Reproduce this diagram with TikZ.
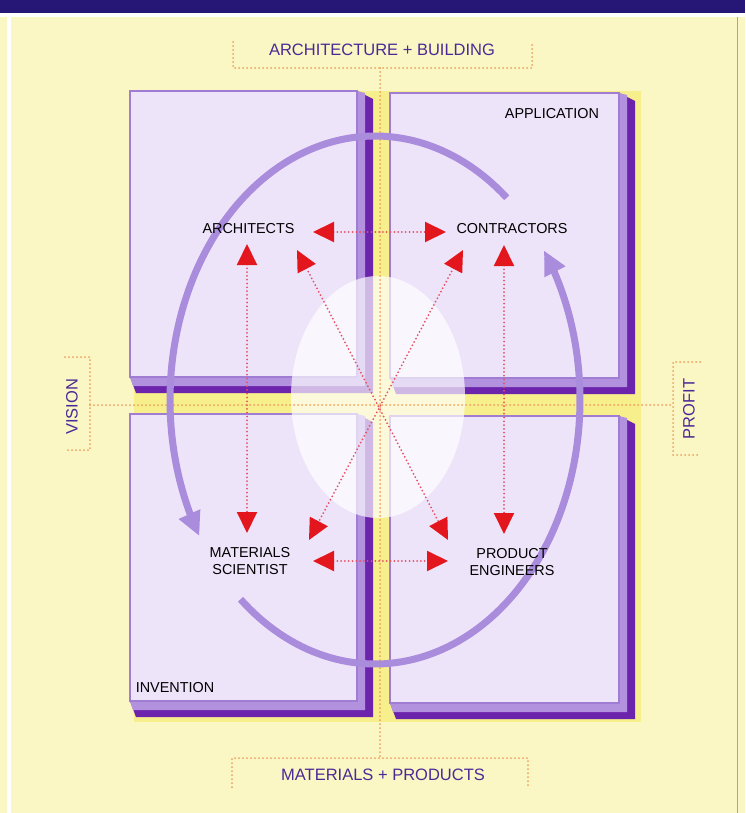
\documentclass[tikz,border=0pt]{standalone}
\usepackage{fontspec}
\setmainfont{Liberation Sans}
\usetikzlibrary{arrows.meta}
\definecolor{bgpale}{RGB}{250,247,196}
\definecolor{bgbright}{RGB}{247,238,140}
\definecolor{band}{RGB}{38,22,118}
\definecolor{face}{RGB}{238,228,250}
\definecolor{faceedge}{RGB}{160,125,210}
\definecolor{extlight}{RGB}{178,146,222}
\definecolor{extdark}{RGB}{108,36,172}
\definecolor{arcpurple}{RGB}{170,140,220}
\definecolor{redtip}{RGB}{226,22,28}
\definecolor{reddot}{RGB}{232,80,100}
\definecolor{orangedot}{RGB}{236,160,95}
\definecolor{labelblue}{RGB}{76,42,150}
\newcommand\quadbox[4]{%
  \fill[extdark] (#3,#2) -- ({#3+16},{#2+8}) -- ({#3+16},{#4+16}) -- ({#1+6},{#4+16}) -- (#1,#4) -- cycle;
  \fill[extlight] (#3,#2) -- ({#3+8},{#2+2}) -- ({#3+8},{#4+9}) -- ({#1+3},{#4+9}) -- (#1,#4) -- cycle;
  \draw[facestyle] (#1,#2) rectangle (#3,#4);}
\tikzset{
  facestyle/.style={fill=face, draw=faceedge, line width=1.3pt},
  arcstyle/.style={draw=arcpurple, line width=7pt, -{Triangle[length=24pt,width=22pt]}},
  odots/.style={draw=orangedot, line width=2pt, dash pattern=on 0pt off 4pt, line cap=round},
  redarrow/.style={draw=reddot, line width=2pt, dash pattern=on 0pt off 3.8pt, line cap=round,
    {Triangle[length=21pt,width=20pt,color=redtip,line cap=butt]}-{Triangle[length=21pt,width=20pt,color=redtip,line cap=butt]}},
  lbl/.style={text=black, font=\fontsize{14.4}{16.5}\selectfont, inner sep=0pt},
  blbl/.style={text=labelblue, font=\fontsize{16.5}{18}\selectfont, inner sep=0pt},
}
\begin{document}
\begin{tikzpicture}[x=1pt, y=-1pt]
\useasboundingbox (0,0) rectangle (745,813);
% background
\fill[bgpale] (0,0) rectangle (745,813);
\fill[band] (0,0) rectangle (745,13);
\fill[white] (0,13) rectangle (745,17);
\fill[white] (7,13) rectangle (11,813);
\draw[black!35, line width=1pt] (737,17) -- (737,813);
\fill[bgbright] (134,91) rectangle (641,722);
% four panels
\quadbox{130}{91}{357}{377}
\quadbox{390}{93}{619}{378}
\quadbox{130}{414}{357}{701}
\quadbox{390}{416}{619}{703}
% white glow
\fill[white, opacity=0.68] (378,397) ellipse [x radius=87, y radius=121];
% brackets and axis lines
\coordinate (tl) at (233,42); \coordinate (tlb) at (233,68);
\coordinate (trb) at (532,68); \coordinate (tr) at (532,42);
\coordinate (bl) at (232,787); \coordinate (blb) at (232,758);
\coordinate (brb) at (528,758); \coordinate (br) at (528,787);
\coordinate (vt) at (65,357); \coordinate (vtb) at (90,357);
\coordinate (vbb) at (90,450); \coordinate (vb) at (65,450);
\coordinate (pt) at (700,362); \coordinate (ptb) at (673,362);
\coordinate (pbb) at (673,455); \coordinate (pb) at (700,455);
\coordinate (axtop) at (380,68); \coordinate (axbot) at (380,758);
\coordinate (axl) at (90,405); \coordinate (axr) at (673,405);
\draw[odots] (tl) -- (tlb) -- (trb) -- (tr);
\draw[odots] (bl) -- (blb) -- (brb) -- (br);
\draw[odots] (vt) -- (vtb) -- (vbb) -- (vb);
\draw[odots] (pt) -- (ptb) -- (pbb) -- (pb);
\draw[odots] (axtop) -- (axbot);
\draw[odots] (axl) -- (axr);
% cycle arcs
\draw[arcstyle] plot[domain=-50:-211, samples=100] ({375+205*cos(\x)},{400+264*sin(\x)});
\draw[arcstyle] plot[domain=131:-34.5, samples=100] ({375+205*cos(\x)},{400+264*sin(\x)});
% labels
\node[lbl] (arch) at (248.5,229) {ARCHITECTS};
\node[lbl] (contr) at (512,229) {CONTRACTORS};
\node[lbl, align=center] (mats) at (250,561) {MATERIALS\\SCIENTIST};
\node[lbl, align=center] (prod) at (512,562) {PRODUCT\\ENGINEERS};
\node[lbl] (app) at (552,114) {APPLICATION};
\node[lbl] (inv) at (175,688) {INVENTION};
\node[blbl] (ab) at (382,50) {ARCHITECTURE + BUILDING};
\node[blbl] (mp) at (383,775) {MATERIALS + PRODUCTS};
\node[blbl, rotate=90] (vis) at (72,407) {VISION};
\node[blbl, rotate=90] (prof) at (689,409) {PROFIT};
% red arrow end points
\coordinate (aE) at (313,232); \coordinate (cW) at (446,232);
\coordinate (mE) at (313,561); \coordinate (pW) at (448,561);
\coordinate (aS) at (247,244); \coordinate (mN) at (247,533);
\coordinate (cS) at (504,245); \coordinate (pN) at (504,534);
\coordinate (aSE) at (297,250); \coordinate (pNW) at (448,540);
\coordinate (cSW) at (463,250); \coordinate (mNE) at (309,540);
\draw[redarrow] (aE) -- (cW);
\draw[redarrow] (mE) -- (pW);
\draw[redarrow] (aS) -- (mN);
\draw[redarrow] (cS) -- (pN);
\draw[redarrow] (aSE) -- (pNW);
\draw[redarrow] (cSW) -- (mNE);
\end{tikzpicture}
\end{document}
